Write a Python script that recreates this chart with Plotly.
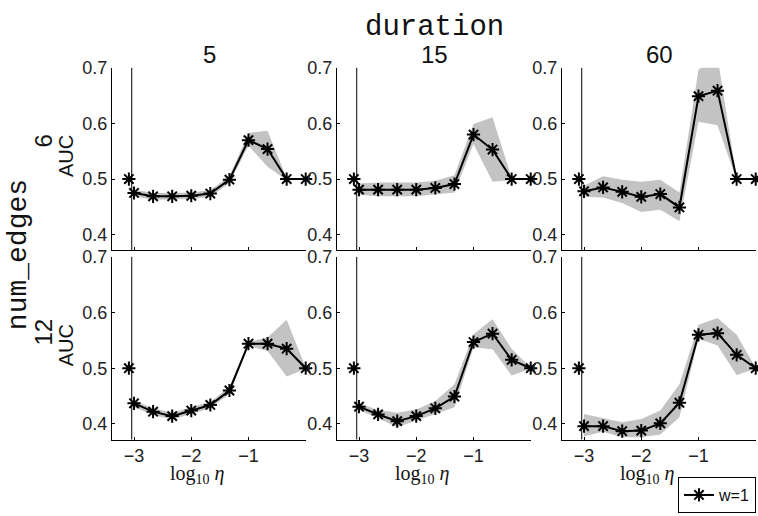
import plotly.graph_objects as go

# ---------------- data ----------------
log_eta = [-3.0, -2.667, -2.333, -2.0, -1.667, -1.333, -1.0, -0.667, -0.333, 0.0]
zero_eta_x = -3.09      # position used for eta = 0 (log = -inf)
zero_eta_auc = 0.5
sep_x = -3.04

durations = ["5", "15", "60"]
num_edges = ["6", "12"]

# num_edges = 6
m_6_5 = [0.475, 0.469, 0.469, 0.470, 0.474, 0.499, 0.570, 0.554, 0.500, 0.500]
u_6_5 = [0.481, 0.475, 0.475, 0.476, 0.480, 0.505, 0.583, 0.587, 0.502, 0.501]
l_6_5 = [0.469, 0.463, 0.463, 0.464, 0.468, 0.493, 0.560, 0.522, 0.498, 0.499]

m_6_15 = [0.481, 0.481, 0.481, 0.481, 0.484, 0.491, 0.580, 0.553, 0.500, 0.500]
u_6_15 = [0.492, 0.494, 0.494, 0.494, 0.497, 0.507, 0.599, 0.611, 0.502, 0.501]
l_6_15 = [0.472, 0.469, 0.469, 0.469, 0.473, 0.476, 0.563, 0.495, 0.498, 0.499]

m_6_60 = [0.478, 0.485, 0.477, 0.468, 0.473, 0.449, 0.649, 0.659, 0.500, 0.500]
u_6_60 = [0.488, 0.505, 0.499, 0.495, 0.499, 0.476, 0.697, 0.720, 0.502, 0.501]
l_6_60 = [0.468, 0.467, 0.457, 0.441, 0.445, 0.424, 0.603, 0.597, 0.498, 0.499]

# num_edges = 12
m_12_5 = [0.437, 0.422, 0.414, 0.424, 0.434, 0.460, 0.544, 0.544, 0.535, 0.500]
u_12_5 = [0.442, 0.428, 0.420, 0.430, 0.440, 0.466, 0.547, 0.555, 0.587, 0.501]
l_12_5 = [0.430, 0.416, 0.408, 0.418, 0.428, 0.454, 0.540, 0.531, 0.485, 0.499]

m_12_15 = [0.431, 0.417, 0.405, 0.414, 0.428, 0.449, 0.547, 0.562, 0.515, 0.500]
u_12_15 = [0.437, 0.425, 0.420, 0.426, 0.441, 0.471, 0.561, 0.588, 0.535, 0.501]
l_12_15 = [0.425, 0.410, 0.394, 0.405, 0.418, 0.430, 0.537, 0.534, 0.487, 0.499]

m_12_60 = [0.396, 0.396, 0.387, 0.388, 0.401, 0.438, 0.560, 0.563, 0.524, 0.500]
u_12_60 = [0.418, 0.410, 0.403, 0.409, 0.424, 0.471, 0.578, 0.590, 0.560, 0.501]
l_12_60 = [0.378, 0.386, 0.376, 0.376, 0.381, 0.412, 0.553, 0.541, 0.488, 0.499]

panels = [
    [(m_6_5, u_6_5, l_6_5), (m_6_15, u_6_15, l_6_15), (m_6_60, u_6_60, l_6_60)],
    [(m_12_5, u_12_5, l_12_5), (m_12_15, u_12_15, l_12_15), (m_12_60, u_12_60, l_12_60)],
]

x_ticks = [-3, -2, -1]
y_ticks = [0.4, 0.5, 0.6, 0.7]

# ---------------- layout helpers ----------------
W, H = 758, 516
col_left = [112, 337, 562]
col_w = 194
row_top = [59, 251.7]
row_bot = [245, 438]


def px(x):
    return x / W


def py(y):
    return 1 - y / H


fig = go.Figure()
tick_font = dict(family="Liberation Sans, Arial, sans-serif", size=18, color="#222222")
band_col = "#c3c3c3"

for r in range(2):
    for c in range(3):
        n = r * 3 + c + 1
        xa = "x" if n == 1 else f"x{n}"
        ya = "y" if n == 1 else f"y{n}"
        m, u, l = panels[r][c]
        # shaded band
        fig.add_trace(go.Scatter(
            x=log_eta + log_eta[::-1], y=u + l[::-1], xaxis=xa, yaxis=ya,
            fill="toself", fillcolor=band_col, line=dict(width=0, color=band_col),
            mode="lines", hoverinfo="skip", showlegend=False))
        # mean line with asterisks
        fig.add_trace(go.Scatter(
            x=log_eta, y=m, xaxis=xa, yaxis=ya, mode="lines+markers",
            name="w=1", showlegend=(n == 1), cliponaxis=False,
            line=dict(color="black", width=2),
            marker=dict(symbol="asterisk-open", size=11, color="black",
                        line=dict(color="black", width=2))))
        # eta = 0 point
        fig.add_trace(go.Scatter(
            x=[zero_eta_x], y=[zero_eta_auc], xaxis=xa, yaxis=ya, mode="markers",
            showlegend=False, cliponaxis=False,
            marker=dict(symbol="asterisk-open", size=11, color="black",
                        line=dict(color="black", width=2))))
        # separator line
        fig.add_shape(type="line", xref=xa, yref=f"{ya} domain", x0=sep_x, x1=sep_x,
                      y0=0, y1=1, line=dict(color="black", width=1))

        x0 = col_left[c]
        fig.layout[f"xaxis{'' if n == 1 else n}"] = dict(
            domain=[px(x0), px(x0 + col_w)], anchor=ya, range=[-3.385, 0.005],
            tickvals=x_ticks, ticks="inside", ticklen=3, tickcolor="black",
            showticklabels=(r == 1), tickfont=tick_font,
            showline=True, linecolor="black", linewidth=1,
            showgrid=False, zeroline=False, fixedrange=True)
        fig.layout[f"yaxis{'' if n == 1 else n}"] = dict(
            domain=[py(row_bot[r]), py(row_top[r])], anchor=xa, range=[0.372, 0.7],
            tickvals=y_ticks, ticktext=[f"{v:.1f}" for v in y_ticks],
            ticks="inside", ticklen=3, tickcolor="black", tickfont=tick_font,
            showline=True, linecolor="black", linewidth=1,
            showgrid=False, zeroline=False, fixedrange=True)

annotations = []
# column titles
for c in range(3):
    cx = col_left[c] + col_w / 2
    annotations.append(dict(text=durations[c], x=px(cx), y=py(45), xref="paper", yref="paper",
                            showarrow=False, xanchor="center", yanchor="middle",
                            font=dict(family="Liberation Sans, Arial", size=24, color="#111")))
    annotations.append(dict(text="log<sub>10</sub> <i>η</i>", x=px(cx - 12), y=py(474),
                            xref="paper", yref="paper", showarrow=False,
                            xanchor="center", yanchor="middle",
                            font=dict(family="Liberation Serif, Times New Roman, serif",
                                      size=20, color="#111")))
annotations.append(dict(text="duration", x=px(434), y=py(18), xref="paper", yref="paper",
                        showarrow=False, xanchor="center", yanchor="middle",
                        font=dict(family="Liberation Mono, Courier New, monospace",
                                  size=29, color="#111")))
annotations.append(dict(text="num_edges", x=px(18), y=py(250), xref="paper", yref="paper",
                        showarrow=False, xanchor="center", yanchor="middle", textangle=-90,
                        font=dict(family="Liberation Mono, Courier New, monospace",
                                  size=28, color="#111")))
for r in range(2):
    cy = (row_top[r] + row_bot[r]) / 2
    annotations.append(dict(text=num_edges[r], x=px(43), y=py(cy - (18 if r == 0 else 16)),
                            xref="paper", yref="paper", showarrow=False,
                            xanchor="center", yanchor="middle", textangle=-90,
                            font=dict(family="Liberation Sans, Arial", size=24, color="#111")))
    annotations.append(dict(text="AUC", x=px(66), y=py(cy - 3), xref="paper", yref="paper",
                            showarrow=False, xanchor="center", yanchor="middle", textangle=-90,
                            font=dict(family="Liberation Sans, Arial", size=20, color="#111")))

fig.update_layout(
    width=W, height=H, margin=dict(l=0, r=0, t=0, b=0),
    paper_bgcolor="white", plot_bgcolor="rgba(0,0,0,0)",
    annotations=annotations,
    legend=dict(x=px(756), y=py(513), xanchor="right", yanchor="bottom",
                bordercolor="black", borderwidth=1, bgcolor="white",
                font=dict(family="Liberation Sans, Arial", size=16, color="#111"),
                itemwidth=30, tracegroupgap=0),
)

fig.write_html("out.html")
